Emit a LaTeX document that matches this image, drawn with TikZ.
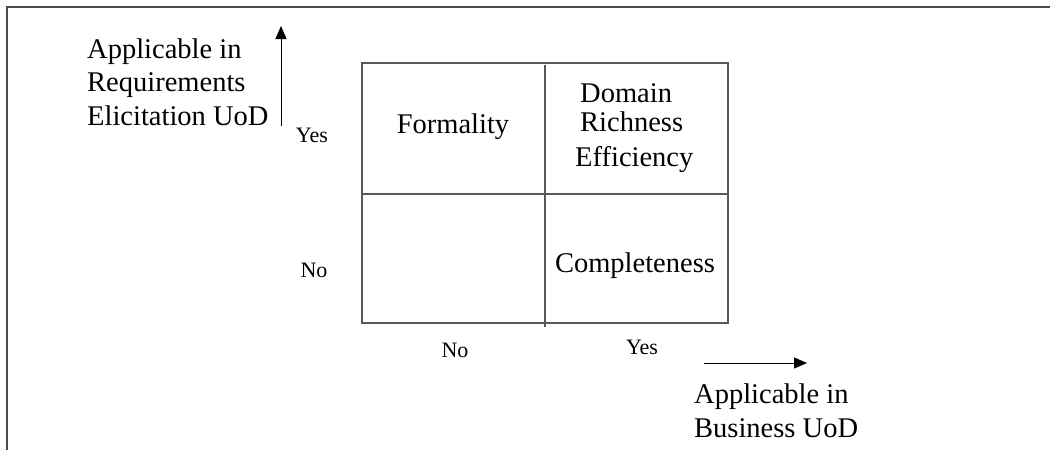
\documentclass[tikz,border=0pt]{standalone}
\usepackage{fontspec}
\setmainfont{Liberation Serif}
\usepackage{tikz}
\usetikzlibrary{positioning,arrows.meta}
\tikzstyle{axis arrow}=[-{Triangle[length=13pt,width=11pt]},line width=1pt]
\tikzstyle{grid line}=[line width=1.4pt,draw=black!65]
\newcommand{\bigtext}{\fontsize{28.5}{33.5}\selectfont}
\newcommand{\smalltext}{\fontsize{22}{24}\selectfont}
\newcommand{\cellnode}[3][]{
  \node [anchor=mid, font=\bigtext, #1] (#2) {#3}
}
\newcommand{\ticknode}[3][]{
  \node [anchor=mid, font=\smalltext, #1] (#2) {#3}
}

\begin{document}
\begin{tikzpicture}[x=1pt,y=-1pt,inner sep=0pt]
        \useasboundingbox (0,0) rectangle (1050,450);
        \draw[line width=1.5pt,draw=black!70] (7,450) -- (7,7) -- (1050,7);

        % quadrant grid
        \coordinate (nw) at (362,63);
        \coordinate (se) at (728,323);
        \coordinate (midtop) at (545,65);
        \coordinate (midbot) at (545,327);
        \coordinate (midleft) at (362,194);
        \coordinate (midright) at (728,194);
        \draw[grid line] (nw) rectangle (se);
        \draw[grid line] (midtop) -- (midbot);
        \draw[grid line] (midleft) -- (midright);

        \cellnode[at={(453,133)},anchor=base]{formality}{Formality};
        \cellnode[at={(580,102)},anchor=base west]{domain}{Domain};
        \cellnode[at={(580,131)},anchor=base west]{richness}{Richness};
        \cellnode[at={(575,166)},anchor=base west]{efficiency}{Efficiency};
        \cellnode[at={(635,272)},anchor=base]{completeness}{Completeness};

        % axis ticks
        \ticknode[at={(312,142)},anchor=base]{yes-left}{Yes};
        \ticknode[at={(314,277)},anchor=base]{no-left}{No};
        \ticknode[at={(455,357)},anchor=base]{no-bottom}{No};
        \ticknode[at={(642,354)},anchor=base]{yes-bottom}{Yes};

        % axis titles
        \cellnode[at={(87,125)},anchor=base west,align=left]{ylabel}{Applicable in\\Requirements\\Elicitation UoD};
        \cellnode[at={(694,437)},anchor=base west,align=left]{xlabel}{Applicable in\\Business UoD};

        \coordinate (ystart) at (281,126);
        \coordinate (yend) at (281,26);
        \coordinate (xstart) at (704,363);
        \coordinate (xend) at (807,363);
                    \draw[axis arrow] (ystart) -- (yend);
                    \draw[axis arrow] (xstart) -- (xend);
        \end{tikzpicture}
\end{document}
